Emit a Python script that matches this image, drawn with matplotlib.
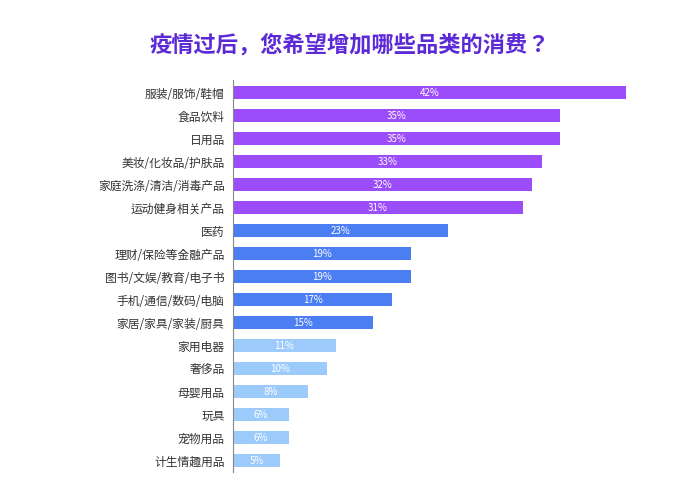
import matplotlib.pyplot as plt
from matplotlib import font_manager

# pick whichever CJK family is actually registered
names = {f.name for f in font_manager.fontManager.ttflist}
cjk = [n for n in ['Noto Sans CJK SC', 'Noto Sans CJK JP', 'Noto Sans CJK TC', 'Noto Sans CJK KR',
                   'Noto Sans SC', 'Noto Sans JP'] if n in names]
if not cjk:
    cjk = sorted(n for n in names if 'CJK' in n)
plt.rcParams['font.family'] = cjk + ['DejaVu Sans']

categories = ['服装/服饰/鞋帽', '食品饮料', '日用品', '美妆/化妆品/护肤品', '家庭洗涤/清洁/消毒产品',
              '运动健身相关产品', '医药', '理财/保险等金融产品', '图书/文娱/教育/电子书',
              '手机/通信/数码/电脑', '家居/家具/家装/厨具', '家用电器', '奢侈品', '母婴用品',
              '玩具', '宠物用品', '计生情趣用品']
values = [42, 35, 35, 33, 32, 31, 23, 19, 19, 17, 15, 11, 10, 8, 6, 6, 5]
groups = [0] * 6 + [1] * 5 + [2] * 6
palette = ['#9B4DF9', '#4B7DF3', '#9CCBFB']

fig = plt.figure(figsize=(7, 5), dpi=100)
ax = fig.add_axes([0.333, 0.056, 0.617, 0.784])

y = list(range(len(categories)))
colors = [palette[g] for g in groups]
ax.barh(y, values, height=0.58, color=colors)
for yi, v in zip(y, values):
    ax.text(v / 2, yi, f'{v}%', color='white', ha='center', va='center', fontsize=7)

ax.set_yticks(y)
ax.set_yticklabels(categories, fontsize=8.5, color='#333333')
ax.set_ylim(16.5, -0.55)
ax.set_xlim(0, 46.2)
ax.set_xticks([])
for s in ['top', 'right', 'bottom']:
    ax.spines[s].set_visible(False)
ax.spines['left'].set_color('#888888')
ax.tick_params(axis='y', length=0, pad=6)

fig.text(0.5, 0.91, '疫情过后，您希望增加哪些品类的消费？', ha='center', va='center',
         fontsize=16, fontweight='bold', color='#5B2AD6')

fig.savefig('out.png', dpi=100)
